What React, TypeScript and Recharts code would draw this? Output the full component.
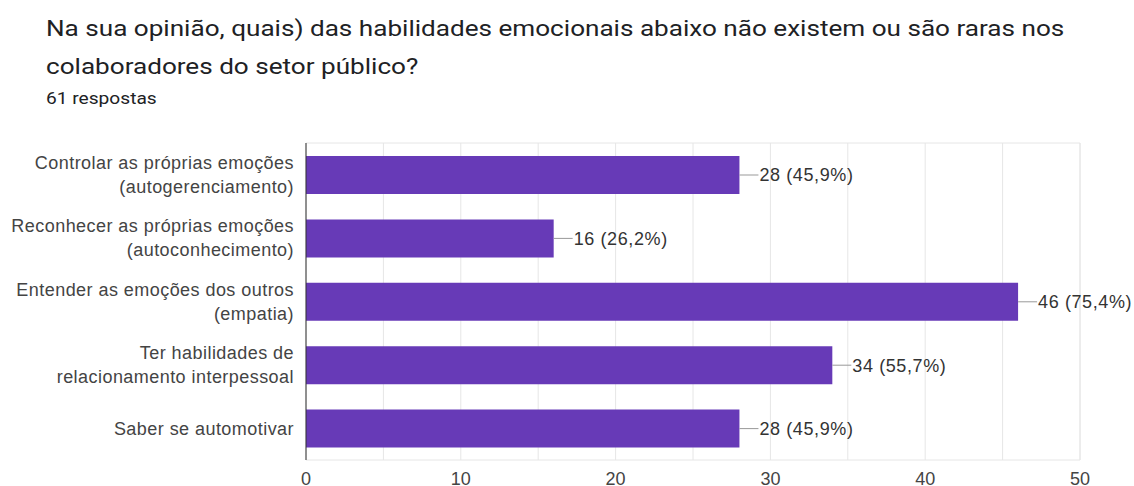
import { BarChart, Bar, XAxis, YAxis, CartesianGrid, LabelList, ReferenceArea } from "recharts"

const categories = [
  "Controlar as próprias emoções\n(autogerenciamento)",
  "Reconhecer as próprias emoções\n(autoconhecimento)",
  "Entender as emoções dos outros\n(empatia)",
  "Ter habilidades de\nrelacionamento interpessoal",
  "Saber se automotivar",
]
const counts = [28, 16, 46, 34, 28]
const percents = ["45,9", "26,2", "75,4", "55,7", "45,9"]
const xTicks = [0, 5, 10, 15, 20, 25, 30, 35, 40, 45, 50]

const data = categories.map((name, i) => ({
  name,
  value: counts[i],
  label: `${counts[i]} (${percents[i]}%)`,
}))

const FONT = "'Liberation Sans', Arial, sans-serif"

function CategoryTick(props: any) {
  const { x, y, payload } = props
  const lines = String(payload.value).split("\n")
  const lh = 24
  const start = y - ((lines.length - 1) * lh) / 2
  return (
    <text x={x - 4} y={start} textAnchor="end" fill="#444" fontSize={18} letterSpacing={0.45} fontFamily={FONT}>
      {lines.map((l, i) => (
        <tspan key={i} x={x - 4} y={start + i * lh} dy="0.35em">
          {l}
        </tspan>
      ))}
    </text>
  )
}

function ValueLabel(props: any) {
  const { x, y, width, height, value } = props
  const ex = x + width
  const cy = y + height / 2
  return (
    <g>
      <line x1={ex} x2={ex + 19} y1={cy} y2={cy} stroke="#999" strokeWidth={1} />
      <text x={ex + 20} y={cy} dy="0.35em" fill="#333" fontSize={18} letterSpacing={0.6} fontFamily={FONT}>
        {value}
      </text>
    </g>
  )
}

export default function App() {
  return (
    <div style={{ position: "absolute", left: 0, top: 0, width: 1134, height: 486, background: "#fff", overflow: "hidden" }}>
      <div
        style={{
          position: "absolute",
          left: 46,
          top: 9,
          fontFamily: "Roboto, sans-serif",
          fontSize: 22.5,
          lineHeight: "38px",
          color: "#202124",
          whiteSpace: "nowrap",
          transform: "scaleX(1.16)",
          transformOrigin: "left top",
        }}
      >
        Na sua opinião, quais) das habilidades emocionais abaixo não existem ou são raras nos
        <br />
        colaboradores do setor público?
      </div>
      <div
        style={{
          position: "absolute",
          left: 46,
          top: 89,
          fontFamily: "Roboto, sans-serif",
          fontSize: 16.5,
          color: "#202124",
          whiteSpace: "nowrap",
          transform: "scaleX(1.16)",
          transformOrigin: "left top",
        }}
      >
        61 respostas
      </div>
      <div style={{ position: "absolute", left: 0, top: 0 }}>
        <BarChart
          width={1134}
          height={486}
          data={data}
          layout="vertical"
          margin={{ top: 143, right: 54, left: 0, bottom: 0 }}
          barCategoryGap={0}
        >
          <CartesianGrid horizontal={false} stroke="#e6e6e6" />
          <ReferenceArea x1={0} x2={50} fill="none" stroke="#e6e6e6" ifOverflow="visible" />
          <XAxis
            type="number"
            domain={[0, 50]}
            ticks={xTicks}
            interval={0}
            axisLine={false}
            tickLine={false}
            height={26}
            tickMargin={6}
            tickFormatter={(v: number) => (v % 10 === 0 ? String(v) : "")}
            tick={{ fill: "#444", fontSize: 18, fontFamily: FONT }}
          />
          <YAxis
            type="category"
            dataKey="name"
            width={306}
            axisLine={{ stroke: "#333" }}
            tickLine={false}
            interval={0}
            tick={<CategoryTick />}
          />
          <Bar dataKey="value" fill="#673ab7" barSize={38} isAnimationActive={false}>
            <LabelList dataKey="label" content={<ValueLabel />} />
          </Bar>
        </BarChart>
      </div>
    </div>
  )
}
